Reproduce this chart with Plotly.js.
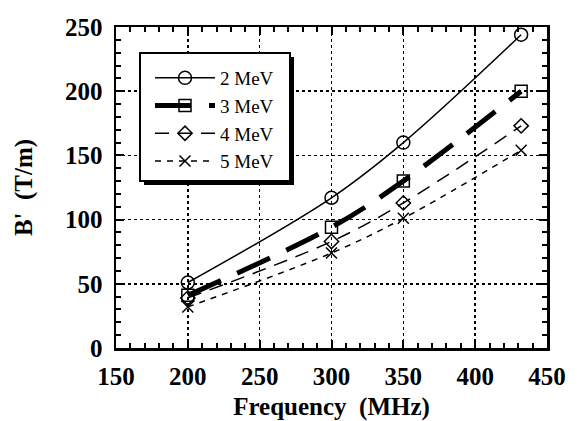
<!DOCTYPE html>
<html>
<head>
<meta charset="utf-8">
<script src="https://cdn.plot.ly/plotly-3.0.1.min.js"></script>
<style>html,body{margin:0;padding:0;background:#fff;}#chart{width:578px;height:421px;}</style>
</head>
<body>
<div id="chart"></div>
<script>
// Data
const frequency = [200, 300, 350, 432];
const series2MeV = [51, 117, 160, 244];
const series3MeV = [41, 94, 130, 200];
const series4MeV = [39, 83, 113, 173];
const series5MeV = [32, 74, 101, 154];
const seriesNames = ['2\u00a0MeV', '3\u00a0MeV', '4\u00a0MeV', '5\u00a0MeV'];
const xTicks = [150, 200, 250, 300, 350, 400, 450];
const yTicks = [0, 50, 100, 150, 200, 250];

const serif = 'Liberation Serif';

function trace(y, name, lineStyle, marker) {
  return {
    x: frequency, y: y, name: name, type: 'scatter', mode: 'lines+markers',
    line: Object.assign({color: 'black', shape: 'spline', smoothing: 1}, lineStyle),
    marker: Object.assign({color: 'black', line: {color: 'black', width: 1.5}}, marker)
  };
}

const data = [
  trace(series2MeV, seriesNames[0], {width: 1.5, dash: 'solid'}, {symbol: 'circle-open', size: 13}),
  trace(series3MeV, seriesNames[1], {width: 5, dash: '36px,18px'}, {symbol: 'square-open', size: 12}),
  trace(series4MeV, seriesNames[2], {width: 1.5, dash: '14px,9px'}, {symbol: 'diamond-open', size: 11}),
  trace(series5MeV, seriesNames[3], {width: 1.5, dash: '6px,6px'}, {symbol: 'x-thin-open', size: 11})
];

// pixel helpers for plot area (left 116, right 547, top 27, bottom 348)
const L = 116, R = 547, T = 27, B = 348;
const px = v => (v - L) / (R - L);
const py = v => (B - v) / (B - T);

const axisCommon = {
  showline: true, linecolor: 'black', linewidth: 2.5, mirror: 'ticks',
  ticks: 'inside', ticklen: 8, tickwidth: 2, tickcolor: 'black',
  showgrid: true, gridcolor: 'black', gridwidth: 1.5, griddash: 'dot',
  zeroline: false,
  tickfont: {family: serif, size: 25, weight: 'bold', color: 'black'},
  minor: {dtick: 10, ticks: 'inside', ticklen: 5, tickwidth: 2, tickcolor: 'black', showgrid: false}
};

const layout = {
  width: 578, height: 421,
  margin: {l: L, r: 578 - R, t: T, b: 421 - B},
  paper_bgcolor: 'white', plot_bgcolor: 'white',
  showlegend: true,
  font: {family: serif, color: 'black'},
  xaxis: Object.assign({}, axisCommon, {
    range: [150, 450], tickvals: xTicks, ticktext: xTicks.map(String),
    ticklabelstandoff: 4,
    title: {text: 'Frequency\u00a0\u00a0(MHz)', font: {family: serif, size: 25, weight: 'bold', color: 'black'}, standoff: 12}
  }),
  yaxis: Object.assign({}, axisCommon, {
    range: [0, 250], tickvals: yTicks, ticktext: yTicks.map(String),
    ticklabelstandoff: 6,
    title: {text: "B'\u00a0\u00a0(T/m)", font: {family: serif, size: 25, weight: 'bold', color: 'black'}, standoff: 26}
  }),
  legend: {
    x: px(150), y: py(59), xanchor: 'left', yanchor: 'top',
    bgcolor: 'rgba(0,0,0,0)', borderwidth: 0,
    itemwidth: 60, tracegroupgap: 0,
    font: {family: serif, size: 19, color: 'black'}
  },
  shapes: [
    {type: 'rect', xref: 'paper', yref: 'paper', layer: 'above',
     x0: px(144), x1: px(294), y0: py(57), y1: py(185),
     fillcolor: 'black', line: {width: 0}},
    {type: 'rect', xref: 'paper', yref: 'paper', layer: 'above',
     x0: px(140), x1: px(290), y0: py(53), y1: py(181),
     fillcolor: 'white', line: {color: 'black', width: 2}}
  ]
};

function draw() {
  Plotly.newPlot('chart', data, layout, {staticPlot: true, displayModeBar: false});
}
let loads = [];
if (document.fonts && document.fonts.load) {
  loads = [
    document.fonts.load('19px "Liberation Serif"', 'MeV0123'),
    document.fonts.load('bold 25px "Liberation Serif"', 'Frequency0123')
  ];
}
Promise.race([
  Promise.all(loads),
  new Promise(r => setTimeout(r, 1500))
]).then(draw, draw);
</script>
</body>
</html>
